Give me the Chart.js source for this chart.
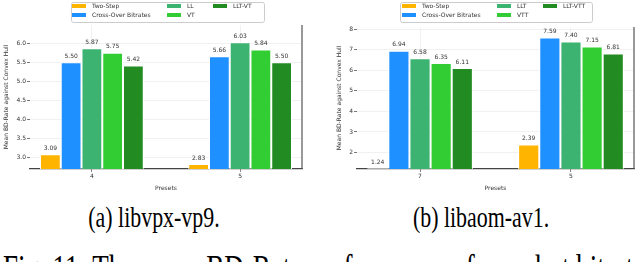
<!DOCTYPE html>
<html>
<head>
<meta charset="utf-8">
<script src="https://cdn.jsdelivr.net/npm/chart.js@4.4.0/dist/chart.umd.min.js"></script>
<style>
body { margin: 0; width: 640px; height: 262px; overflow: hidden; background: #fff; position: relative; }
canvas { position: absolute; top: 0; }
.cap { position: absolute; white-space: nowrap; line-height: 1; color: #000; font-family: "Liberation Serif", serif; }
.sub { font-size: 30px; top: 202px; transform-origin: 50% 0; transform: translateX(-50%) scaleX(0.73); }
#fig { font-size: 37px; top: 250px; left: 3px; transform-origin: 0 0; transform: scaleX(0.73); }
</style>
</head>
<body>
<canvas id="vp9Chart" width="320" height="200" style="left:0"></canvas>
<canvas id="av1Chart" width="320" height="200" style="left:320px"></canvas>
<div class="cap sub" style="left:154px">(a) libvpx-vp9.</div>
<div class="cap sub" style="left:481px">(b) libaom-av1.</div>
<div class="cap" id="fig">Fig. 11: The mean BD-Rate performance of per-shot bitrate ladders</div>
<script>
const presetsVp9 = ['4', '5'];
const presetsAv1 = ['7', '5'];
const seriesVp9 = ['Two-Step', 'Cross-Over Bitrates', 'LL', 'VT', 'LLT-VT'];
const seriesAv1 = ['Two-Step', 'Cross-Over Bitrates', 'LLT', 'VTT', 'LLT-VTT'];

const twoStepVp9 = [3.09, 2.83];
const crossOverVp9 = [5.50, 5.66];
const llVp9 = [5.87, 6.03];
const vtVp9 = [5.75, 5.84];
const llvtVp9 = [5.42, 5.50];

const twoStepAv1 = [1.24, 2.39];
const crossOverAv1 = [6.94, 7.59];
const lltAv1 = [6.58, 7.40];
const vttAv1 = [6.35, 7.15];
const lltvttAv1 = [6.11, 6.81];

const yTicksVp9 = [3.0, 3.5, 4.0, 4.5, 5.0, 5.5, 6.0];
const yTicksAv1 = [2, 3, 4, 5, 6, 7, 8];

const barColors = ['#FFB400', '#1E90FF', '#3CB371', '#32CD32', '#228B22'];
const font = { family: 'DejaVu Sans', size: 6 };
const textColor = '#333';

// bar value labels
const valueLabels = {
    id: 'valueLabels',
    afterDatasetsDraw(chart) {
        const ctx = chart.ctx;
        ctx.save();
        ctx.font = '6px "DejaVu Sans"';
        ctx.fillStyle = textColor;
        ctx.textAlign = 'center';
        ctx.textBaseline = 'bottom';
        chart.data.datasets.forEach((ds, i) => {
            chart.getDatasetMeta(i).data.forEach((bar, j) => {
                ctx.fillText(ds.data[j].y.toFixed(2), bar.x, bar.y - 3);
            });
        });
        ctx.restore();
    }
};

// right spine
const rightSpine = {
    id: 'rightSpine',
    afterDraw(chart) {
        const a = chart.chartArea, ctx = chart.ctx;
        ctx.save();
        ctx.strokeStyle = '#555';
        ctx.lineWidth = 1.2;
        ctx.beginPath();
        ctx.moveTo(a.right, a.top);
        ctx.lineTo(a.right, a.bottom);
        ctx.stroke();
        ctx.restore();
    }
};

// matplotlib style legend, 3 columns filled top-down
const legendBox = {
    id: 'legendBox',
    afterDraw(chart, args, opts) {
        const ctx = chart.ctx;
        ctx.save();
        ctx.fillStyle = 'rgba(255,255,255,0.9)';
        ctx.strokeStyle = '#cccccc';
        ctx.lineWidth = 1;
        ctx.beginPath();
        ctx.roundRect(opts.x + 0.5, opts.y + 0.5, opts.w, opts.h, 2);
        ctx.fill();
        ctx.stroke();
        ctx.font = '6px "DejaVu Sans"';
        ctx.textBaseline = 'middle';
        chart.data.datasets.forEach((ds, i) => {
            const x = opts.cols[Math.floor(i / 2)];
            const y = opts.rows[i % 2];
            ctx.fillStyle = ds.backgroundColor;
            ctx.fillRect(x, y - 2, 14, 4);
            ctx.fillStyle = textColor;
            ctx.fillText(ds.label, x + 20, y);
        });
        ctx.restore();
    }
};

function makeChart(id, presets, series, values, yMin, yMax, yTicks, yFmt, area, legend) {
    new Chart(document.getElementById(id), {
        type: 'bar',
        data: {
            datasets: series.map((name, i) => ({
                label: name,
                data: values[i].map((v, j) => ({ x: j, y: v })),
                backgroundColor: barColors[i],
                borderColor: '#ffffff',
                borderWidth: 1,
                borderSkipped: false
            }))
        },
        options: {
            responsive: false,
            animation: false,
            devicePixelRatio: 1,
            categoryPercentage: 0.7,
            barPercentage: 1.0,
            layout: { padding: { left: area.padLeft, right: 320 - area.right, top: area.top, bottom: 0 } },
            plugins: {
                legend: { display: false },
                tooltip: { enabled: false },
                legendBox: legend
            },
            scales: {
                x: {
                    type: 'linear',
                    min: -0.4175,
                    max: 1.4175,
                    offset: false,
                    afterBuildTicks: s => { s.ticks = presets.map((p, j) => ({ value: j })); },
                    afterFit: s => { s.height = 200 - area.bottom; },
                    ticks: { font: font, color: textColor, padding: 1, callback: v => presets[v] },
                    grid: { offset: false, color: '#eeeeee', lineWidth: 0.8, tickLength: 3, tickColor: '#666' },
                    border: { display: true, color: '#444', width: 1.2 },
                    title: { display: true, text: 'Presets', font: font, color: textColor, padding: { top: 2, bottom: 8 } }
                },
                y: {
                    min: yMin,
                    max: yMax,
                    afterBuildTicks: s => { s.ticks = yTicks.map(v => ({ value: v })); },
                    afterFit: s => { s.width = area.left - area.padLeft; },
                    ticks: { font: font, color: textColor, padding: 1, callback: yFmt },
                    grid: { color: '#eeeeee', lineWidth: 0.8, tickLength: 3, tickColor: '#555' },
                    border: { display: false },
                    title: { display: true, text: 'Mean BD-Rate against Convex Hull', font: font, color: textColor, padding: { top: 3, bottom: 1 } }
                }
            }
        },
        plugins: [valueLabels, rightSpine, legendBox]
    });
}

makeChart('vp9Chart', presetsVp9, seriesVp9,
    [twoStepVp9, crossOverVp9, llVp9, vtVp9, llvtVp9],
    2.7, 6.48, yTicksVp9, v => v.toFixed(1),
    { padLeft: 0, left: 30, right: 302, top: 25, bottom: 169 },
    { x: 71, y: 2, w: 193, h: 20, cols: [72, 167, 213], rows: [6, 15] });

makeChart('av1Chart', presetsAv1, seriesAv1,
    [twoStepAv1, crossOverAv1, lltAv1, vttAv1, lltvttAv1],
    1.2, 8.1, yTicksAv1, v => String(v),
    { padLeft: 13, left: 37, right: 314, top: 27, bottom: 169 },
    { x: 80, y: 2, w: 192, h: 20, cols: [82, 177, 223], rows: [6, 15] });
</script>
</body>
</html>
